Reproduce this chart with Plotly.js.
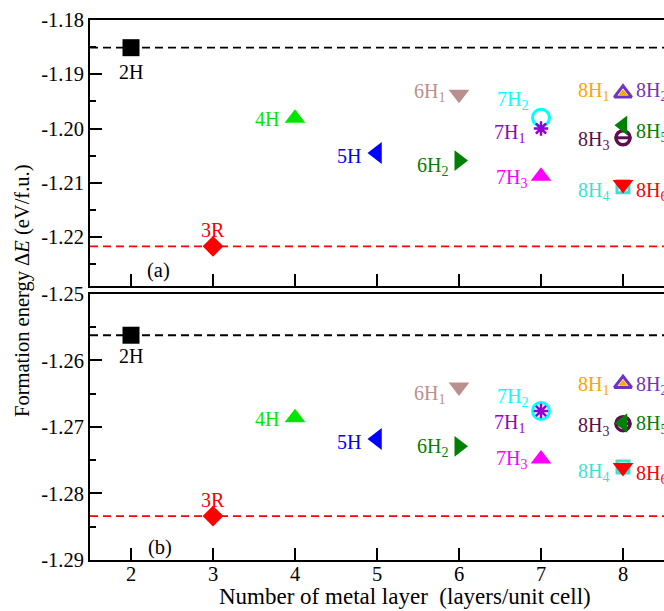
<!DOCTYPE html>
<html><head><meta charset="utf-8">
<script src="https://cdn.plot.ly/plotly-3.0.1.min.js"></script>
<style>html,body{margin:0;padding:0;overflow:hidden;background:#fff}#chart{width:720px;height:611px}</style>
</head><body><div id="chart"></div>
<script>
// ---- data ----
const structures = ['2H','3R','4H','5H','6H1','6H2','7H2','7H1','7H3','8H2','8H1','8H3','8H5','8H4','8H6'];
const labelText  = ['2H','3R','4H','5H','6H<sub>1</sub>','6H<sub>2</sub>','7H<sub>2</sub>','7H<sub>1</sub>','7H<sub>3</sub>',
                    '8H<sub>2</sub>','8H<sub>1</sub>','8H<sub>3</sub>','8H<sub>5</sub>','8H<sub>4</sub>','8H<sub>6</sub>'];
const metalLayers = [2,3,4,5,6,6,7,7,7,8,8,8,8,8,8];
const energyA = [-1.1851,-1.2217,-1.1981,-1.2045,-1.1937,-1.2059,-1.1980,-1.2000,-1.2088,-1.1935,-1.1935,-1.2017,-1.1994,-1.2107,-1.2103];
const energyB = [-1.2562,-1.2834,-1.2686,-1.2718,-1.2640,-1.2729,-1.2676,-1.2676,-1.2748,-1.2635,-1.2635,-1.2695,-1.2694,-1.2760,-1.2761];
const xTicks = [2,3,4,5,6,7,8];
const yTicksA = [-1.18,-1.19,-1.20,-1.21,-1.22];
const yTicksB = [-1.25,-1.26,-1.27,-1.28,-1.29];
const refA = {black: energyA[0], red: energyA[1]};
const refB = {black: energyB[0], red: energyB[1]};

// ---- styles ----
const FONT = '"Liberation Serif", "Times New Roman", serif';
const styles = [
  {sym:'square', size:17, color:'#000000'},
  {sym:'diamond', size:16, color:'#ff0000'},
  {sym:'triangle-up', size:18, color:'#00e600'},
  {sym:'triangle-left', size:19, color:'#0000ff'},
  {sym:'triangle-down', size:18, color:'#bc8f8f'},
  {sym:'triangle-right', size:18, color:'#008000'},
  {sym:'circle-open', size:17, color:'#00ffff', lw:3},
  {sym:'asterisk-open', size:12, color:'#9400d3', lw:2.5},
  {sym:'triangle-up', size:18, color:'#ff00ff'},
  {sym:'triangle-up-open', size:15, color:'#7035c0', lw:3},
  {sym:'triangle-up', size:8, color:'#ffa500'},
  {sym:'circle-open', size:14, color:'#5c0f4f', lw:3.5},
  {sym:'triangle-left', size:17, color:'#008000'},
  {sym:'square-open', size:12, color:'#40e0d0', lw:3},
  {sym:'triangle-down', size:18, color:'#ff0000'}
];
const labelColors = ['#000000','#ff0000','#00e600','#0000ff','#bc8f8f','#008000','#00ffff','#9400d3','#ff00ff','#7035c0','#ffa500','#5c0f4f','#008000','#40e0d0','#ff0000'];
// label placement: [anchor, dx, dy(main text center, +up)]
const placeA = [['c',0,-24],['c',0,16],['r',-14,-1],['r',-14,-3],['r',-12,5],['r',-9,-3],['r',-11,20],['r',-14,-2],['r',-12,1],
                ['l',11,5],['r',-12,5],['r',-12,0],['l',11,-4],['r',-12,-2],['l',11,-4]];
const placeB = [['c',0,-21],['c',0,16],['r',-14,-1],['r',-14,-3],['r',-12,-4],['r',-9,2],['r',-11,17],['r',-14,-9],['r',-12,2],
                ['l',11,1],['r',-12,1],['r',-12,0],['l',11,2],['r',-12,-3],['l',11,-4]];

const traces = [];
const annotations = [];
function addPanel(energy, place, xa, ya) {
  for (let i = 0; i < structures.length; i++) {
    const s = styles[i];
    traces.push({
      x: [metalLayers[i]], y: [energy[i]], xaxis: xa, yaxis: ya, type: 'scatter', mode: 'markers',
      name: structures[i], showlegend: false, cliponaxis: false,
      marker: {symbol: s.sym, size: s.size, color: s.color, line: {color: s.color, width: s.lw || 0}}
    });
    if (structures[i] === '8H3') {
      traces.push({x: [metalLayers[i]], y: [energy[i]], xaxis: xa, yaxis: ya, type: 'scatter', mode: 'markers',
        showlegend: false, cliponaxis: false,
        marker: {symbol: 'line-ew-open', size: 12, color: s.color, line: {color: s.color, width: 3}}});
    }
    const p = place[i];
    const sub = labelText[i].indexOf('<sub>') >= 0;
    annotations.push({
      x: metalLayers[i], y: energy[i], xref: xa, yref: ya, text: labelText[i], showarrow: false,
      xanchor: p[0] === 'c' ? 'center' : (p[0] === 'r' ? 'right' : 'left'), yanchor: 'middle',
      xshift: p[1], yshift: p[2] - (sub ? 3 : 0),
      font: {family: FONT, size: 20, color: labelColors[i]}
    });
  }
}
addPanel(energyA, placeA, 'x2', 'y2');
addPanel(energyB, placeB, 'x', 'y');

const dash = (y, yref, color) => ({type: 'line', xref: 'x domain', yref: yref, x0: 0, x1: 1, y0: y, y1: y,
  line: {color: color, width: 1.8, dash: '8px,5px'}, layer: 'below'});
const shapes = [dash(refA.black, 'y2', '#000'), dash(refA.red, 'y2', '#ff0000'),
                dash(refB.black, 'y', '#000'), dash(refB.red, 'y', '#ff0000')];

annotations.push({xref: 'paper', yref: 'paper', x: -0.1185, y: 0.5, text: 'Formation energy Δ<i>E</i> (eV/f.u.)',
  textangle: -90, showarrow: false, xanchor: 'center', yanchor: 'middle', font: {family: FONT, size: 20.5, color: '#000'}});
annotations.push({xref: 'paper', yref: 'paper', x: 0.5488, y: -0.0685, text: 'Number of metal layer\u00a0 (layers/unit cell)',
  showarrow: false, xanchor: 'center', yanchor: 'middle', font: {family: FONT, size: 23, color: '#000'}});
annotations.push({xref: 'x2', yref: 'y2 domain', x: 2.34, y: 0, yshift: 16, text: '(a)', showarrow: false,
  xanchor: 'center', yanchor: 'middle', font: {family: FONT, size: 20.5, color: '#000'}});
annotations.push({xref: 'x', yref: 'y domain', x: 2.35, y: 0, yshift: 13, text: '(b)', showarrow: false,
  xanchor: 'center', yanchor: 'middle', font: {family: FONT, size: 20.5, color: '#000'}});

const axX = {range: [1.5, 8.5], tickvals: xTicks, ticks: 'inside', ticklen: 12, tickwidth: 2, tickcolor: '#000',
  showline: true, linewidth: 2, linecolor: '#000', mirror: true, showgrid: false, zeroline: false,
  ticklabelstandoff: -6,
  tickfont: {family: FONT, size: 20.5, color: '#000'}};
const axY = (range, vals, dom) => ({range: range, domain: dom, tickvals: vals, ticktext: vals.map(v => v.toFixed(2)),
  ticks: 'inside', ticklen: 12, tickwidth: 2, tickcolor: '#000',
  minor: {dtick: 0.005, ticks: 'inside', ticklen: 6, tickwidth: 2, tickcolor: '#000', showgrid: false},
  showline: true, linewidth: 2, linecolor: '#000', mirror: true, showgrid: false, zeroline: false,
  tickfont: {family: FONT, size: 20.5, color: '#000'}});

const layout = {
  width: 720, height: 611, margin: {l: 90, r: 56, t: 20, b: 51},
  paper_bgcolor: '#fff', plot_bgcolor: '#fff', showlegend: false,
  xaxis: Object.assign({}, axX, {anchor: 'y'}),
  xaxis2: Object.assign({}, axX, {anchor: 'y2', showticklabels: false, matches: 'x'}),
  yaxis: Object.assign(axY([-1.29, -1.25], yTicksB, [0, 0.4926]), {anchor: 'x'}),
  yaxis2: Object.assign(axY([-1.229, -1.18], yTicksA, [0.5074, 1]), {anchor: 'x2'}),
  shapes: shapes, annotations: annotations
};
Plotly.newPlot('chart', traces, layout, {staticPlot: true, displayModeBar: false});
</script></body></html>
